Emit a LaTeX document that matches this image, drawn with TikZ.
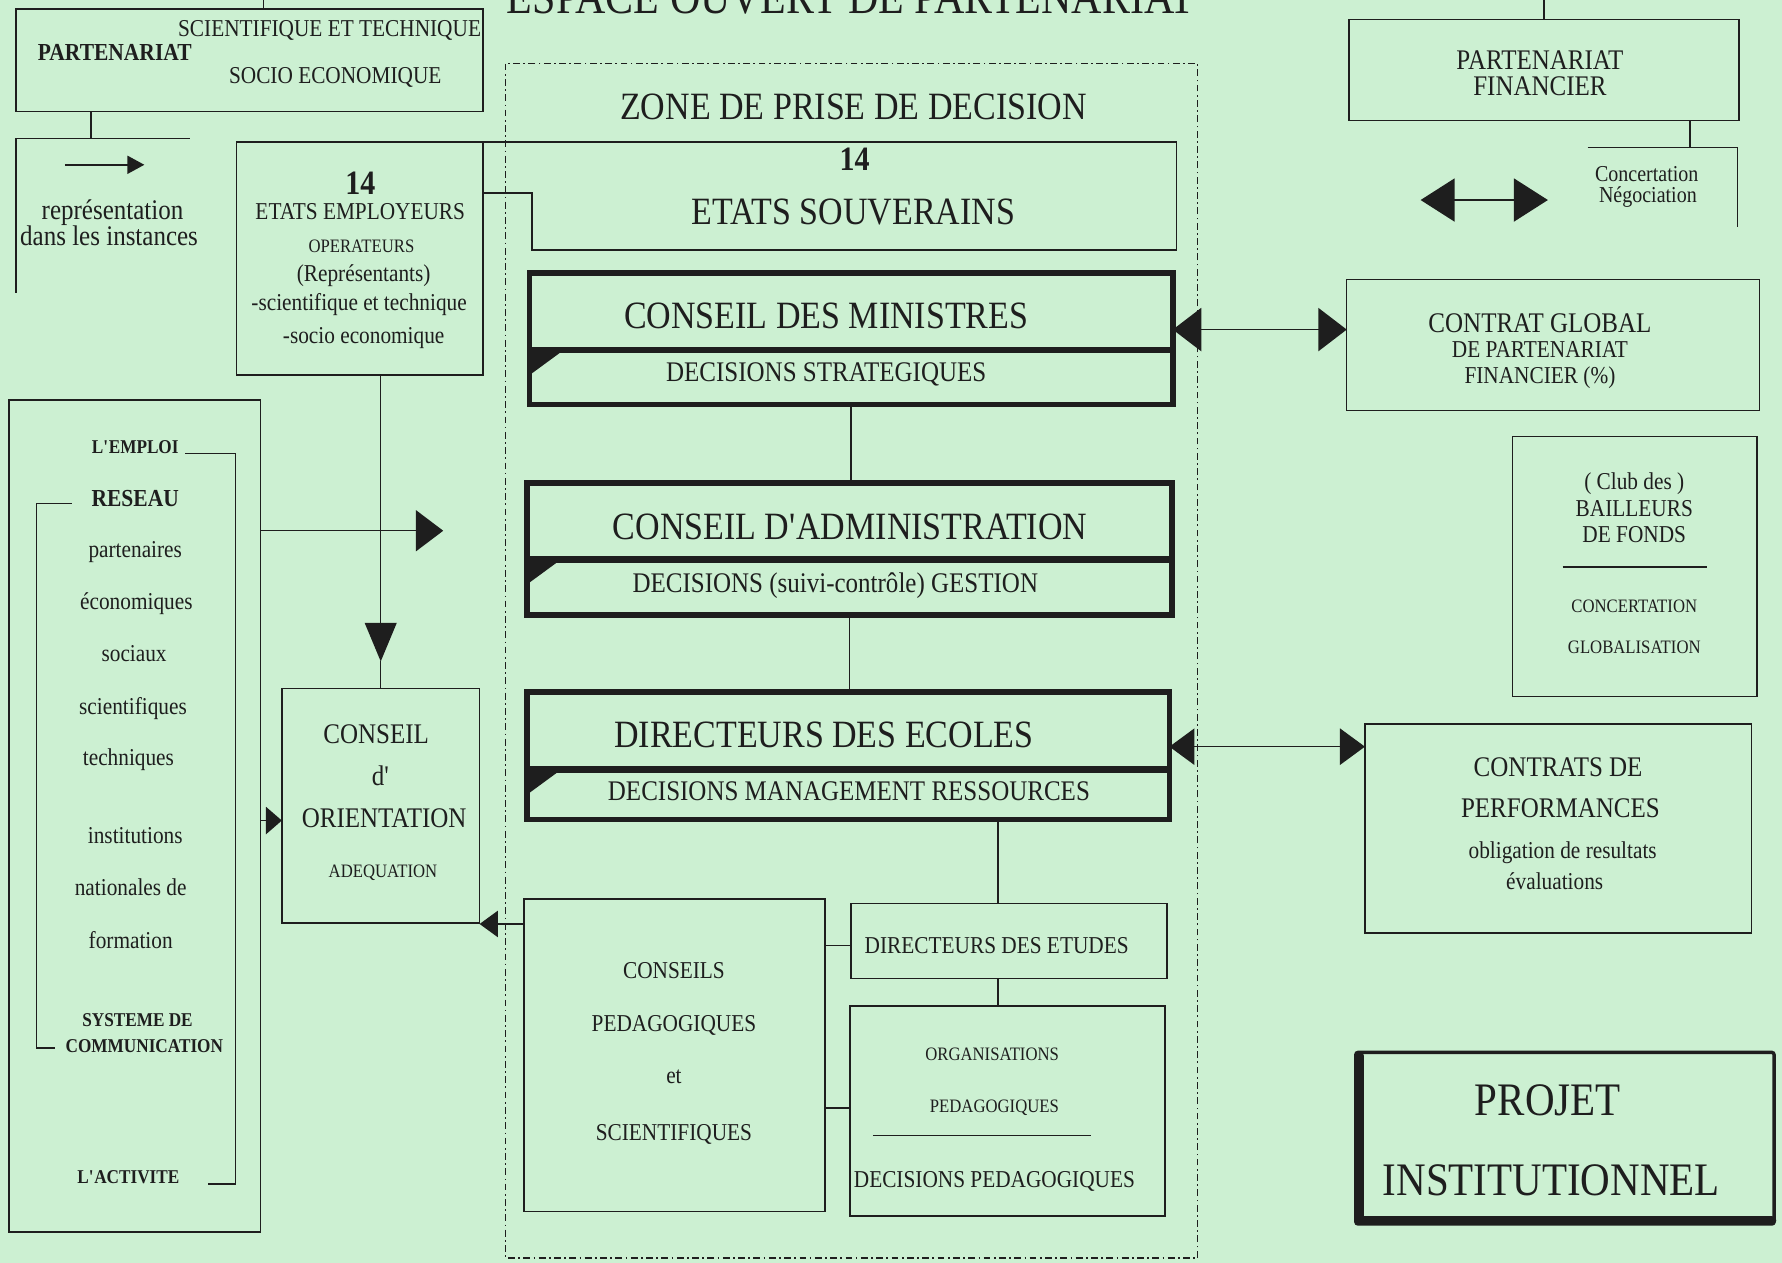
\documentclass[tikz,border=0pt]{standalone}
\usepackage{fontspec}
\setmainfont{Liberation Serif}[FakeStretch=0.88]
\usetikzlibrary{arrows.meta,fit}
\definecolor{bgc}{RGB}{204,240,210}
\definecolor{ink}{RGB}{30,30,30}
\newcommand{\sq}{\textquotesingle}
\begin{document}
\begin{tikzpicture}[x=1pt,y=-1pt,
 ln/.style={draw=ink,line width=1.3pt},
 box/.style={draw=ink,line width=1.3pt,inner sep=0pt,outer sep=0pt,fit={#1}},
 tbox/.style={draw=ink,line width=5pt,inner sep=0pt,outer sep=0pt,fit={#1}},
 divl/.style={draw=ink,line width=6pt},
 zone/.style={draw=ink,line width=1.1pt,dash pattern=on 6pt off 3pt on 1.5pt off 3pt},
 txt/.style={anchor=mid,inner sep=0pt,text=ink},
 fa/.style={font=\fontsize{16.7}{18}\selectfont},
 fb/.style={font=\fontsize{21.3}{23}\selectfont},
 fcn/.style={font=\fontsize{20}{22}\selectfont},
 fc/.style={font=\fontsize{25}{27}\selectfont},
 fd/.style={font=\fontsize{34}{36}\selectfont},
 fe/.style={font=\fontsize{41}{43}\selectfont},
 ba/.style={font=\bfseries\fontsize{17.2}{18}\selectfont},
 bb/.style={font=\bfseries\fontsize{21.5}{23}\selectfont},
 bn/.style={font=\bfseries\fontsize{30}{32}\selectfont},
 bigarr/.style={-{Triangle[length=24pt,width=36pt]}},
 downarr/.style={-{Triangle[length=34pt,width=28pt]}},
 midarr/.style={-{Triangle[length=16pt,width=23pt]}},
 smallarr/.style={-{Triangle[length=14pt,width=24pt]}},
 legarr/.style={-{Triangle[length=15pt,width=16pt]}},
 dblarr/.style={{Triangle[length=25pt,width=38pt]}-{Triangle[length=25pt,width=38pt]}},
 dblarrb/.style={{Triangle[length=22pt,width=32pt]}-{Triangle[length=22pt,width=32pt]}},
 dblarrc/.style={{Triangle[length=30pt,width=38pt]}-{Triangle[length=30pt,width=38pt]}},
]
% background and bounding box
\fill[bgc] (0,0) rectangle (1568,1111);
\useasboundingbox (0,0) rectangle (1568,1111);

% helper coordinates
\coordinate (top0) at (0,0);
\coordinate (y130) at (0,130);
\coordinate (y170) at (0,170);
\coordinate (y290) at (0,290);
\coordinate (y308) at (0,308);
\coordinate (y467) at (0,467);
\coordinate (y492) at (0,492);
\coordinate (y582) at (0,582);
\coordinate (y657) at (0,657);
\coordinate (y677) at (0,677);
\coordinate (y722) at (0,722);
\coordinate (y813) at (0,813);
\coordinate (y832) at (0,832);
\coordinate (y975) at (0,975);
\coordinate (x232) at (232,0);
\coordinate (x80) at (80,0);
\coordinate (x878) at (878,0);
\coordinate (x1487) at (1487,0);

% title
\node[txt,anchor=base,font=\fontsize{42}{44}\selectfont] (title) at (749,12) {ESPACE OUVERT DE PARTENARIAT};

% zone de prise de decision
\draw[zone] (445,56) rectangle (1054,1107);
\node[txt,fd] (zonet) at (751,103) {ZONE DE PRISE DE DECISION};

% top-left partenariat box
\node[box={(14,8)(425,98)}] (pt) {};
\draw[ln] (pt.north -| x232) -- (top0 -| x232);
\node[txt,fb] (sct) at (290,30) {SCIENTIFIQUE ET TECHNIQUE};
\node[txt,bb] (ptn) at (101,51) {PARTENARIAT};
\node[txt,fb] (soc) at (295,71) {SOCIO ECONOMIQUE};
\coordinate (lg1) at (14,122);
\coordinate (lg2) at (167,122);
\coordinate (lg3) at (14,258);
\draw[ln] (pt.south -| x80) -- (lg1 -| x80);
\draw[ln] (lg2) -- (lg1) -- (lg3);
\coordinate (la1) at (57,145);
\coordinate (la2) at (127,145);
\draw[ln,legarr] (la1) -- (la2);
\node[txt,fc] (rep1) at (99,191) {représentation};
\node[txt,fc] (rep2) at (96,214) {dans les instances};

% etats employeurs
\node[box={(208,125)(425,330)}] (ee) {};
\node[txt,bn] (n14a) at (317,169) {14};
\node[txt,fb] (ee1) at (317,191) {ETATS EMPLOYEURS};
\node[txt,fa] (ee2) at (318,220) {OPERATEURS};
\node[txt,fb] (ee3) at (320,245) {(Représentants)};
\node[txt,fb] (ee4) at (316,271) {-scientifique et technique};
\node[txt,fb] (ee5) at (320,300) {-socio economique};

% etats souverains (stepped shape)
\coordinate (es1) at (1035,125);
\coordinate (es2) at (1035,220);
\coordinate (es3) at (468,220);
\coordinate (es4) at (468,170);
\draw[ln,line join=miter] (ee.north east) -- (es1) -- (es2) -- (es3) -- (es4) -- (ee.east |- y170);
\node[txt,bn] (n14b) at (752,148) {14};
\node[txt,fd] (es) at (751,195) {ETATS SOUVERAINS};

% conseil des ministres
\node[tbox={(466,240)(1032,356)}] (cm) {};
\draw[divl] (cm.west |- y308) -- (cm.east |- y308);
\fill[ink] (cm.west |- y308) -- ++(30,0) -- ++(-30,22) -- cycle;
\node[txt,fd] (cmt) at (727,287) {CONSEIL DES MINISTRES};
\node[txt,fc] (cms) at (727,333) {DECISIONS STRATEGIQUES};

% conseil d'administration
\node[tbox={(464,425)(1031,541)}] (ca) {};
\draw[divl] (ca.west |- y492) -- (ca.east |- y492);
\fill[ink] (ca.west |- y492) -- ++(30,0) -- ++(-30,22) -- cycle;
\node[txt,fd] (cat) at (748,472) {CONSEIL D\sq ADMINISTRATION};
\node[txt,fc] (cas) at (735,519) {DECISIONS (suivi-contrôle) GESTION};

% directeurs des ecoles
\node[tbox={(464,609)(1029,721)}] (de) {};
\draw[divl] (de.west |- y677) -- (de.east |- y677);
\fill[ink] (de.west |- y677) -- ++(30,0) -- ++(-30,22) -- cycle;
\node[txt,fd] (det1) at (725,655) {DIRECTEURS DES ECOLES};
\node[txt,fc] (des) at (747,702) {DECISIONS MANAGEMENT RESSOURCES};

\draw[ln] (cm.south) -- (cm.south |- ca.north);
\draw[ln] (ca.south) -- (ca.south |- de.north);

% conseils pedagogiques
\node[box={(461,791)(726,1066)}] (cp) {};
\node[txt,fb] (cp1) at (593,859) {CONSEILS};
\node[txt,fb] (cp2) at (593,905) {PEDAGOGIQUES};
\node[txt,fb] (cp3) at (593,951) {et};
\node[txt,fb] (cp4) at (593,1001) {SCIENTIFIQUES};

% directeurs des etudes
\node[box={(749,795)(1027,861)}] (det) {};
\node[txt,fb] (dett) at (877,837) {DIRECTEURS DES ETUDES};

% organisations
\node[box={(748,885)(1025,1070)}] (org) {};
\node[txt,fa] (org1) at (873,931) {ORGANISATIONS};
\node[txt,fa] (org2) at (875,977) {PEDAGOGIQUES};
\coordinate (ol1) at (768,999);
\coordinate (ol2) at (960,999);
\draw[ln] (ol1) -- (ol2);
\node[txt,fb] (org3) at (875,1043) {DECISIONS PEDAGOGIQUES};

\draw[ln] (de.south -| x878) -- (det.north -| x878);
\draw[ln] (det.south -| x878) -- (org.north -| x878);
\draw[ln] (cp.east |- y832) -- (det.west |- y832);
\draw[ln] (cp.east |- y975) -- (org.west |- y975);

% conseil d'orientation
\node[box={(248,606)(422,812)}] (co) {};
\node[txt,fc] (co1) at (331,652) {CONSEIL};
\node[txt,fc] (co2) at (335,689) {d\sq};
\node[txt,fc] (co3) at (338,726) {ORIENTATION};
\node[txt,fa] (co4) at (337,770) {ADEQUATION};

\draw[ln,downarr] (co.north |- ee.south) -- (co.north |- y582);
\draw[ln] (co.north |- y582) -- (co.north);
\draw[ln,midarr] (cp.west |- y813) -- (co.east |- y813);

% left reseau box
\node[box={(8,352)(229,1084)}] (lb) {};
\coordinate (br1) at (163,399);
\coordinate (br2) at (207,399);
\coordinate (br3) at (207,1042);
\coordinate (br4) at (183,1042);
\draw[ln] (br1) -- (br2) -- (br3) -- (br4);
\coordinate (bq1) at (63,443);
\coordinate (bq2) at (32,443);
\coordinate (bq3) at (32,922);
\coordinate (bq4) at (48,922);
\draw[ln] (bq1) -- (bq2) -- (bq3) -- (bq4);
\node[txt,ba] (l1) at (119,397) {L\sq EMPLOI};
\node[txt,bb] (l2) at (119,443) {RESEAU};
\node[txt,fb] (l3) at (119,488) {partenaires};
\node[txt,fb] (l4) at (120,534) {économiques};
\node[txt,fb] (l5) at (118,580) {sociaux};
\node[txt,fb] (l6) at (117,626) {scientifiques};
\node[txt,fb] (l7) at (113,671) {techniques};
\node[txt,fb] (l8) at (119,740) {institutions};
\node[txt,fb] (l9) at (115,786) {nationales de};
\node[txt,fb] (l10) at (115,832) {formation};
\node[txt,ba] (l11) at (121,901) {SYSTEME DE};
\node[txt,ba] (l12) at (127,924) {COMMUNICATION};
\node[txt,ba] (l13) at (113,1039) {L\sq ACTIVITE};

\coordinate (az) at (390,467);
\draw[ln,bigarr] (lb.east |- y467) -- (az);
\draw[ln,smallarr] (lb.east |- y722) -- (co.west |- y722);

% partenariat financier
\node[box={(1187,17)(1530,106)}] (pf) {};
\draw[ln] (pf.north) -- (pf.north |- top0);
\node[txt,fc] (pf1) at (1355,59) {PARTENARIAT};
\node[txt,fc] (pf2) at (1355,82) {FINANCIER};
\coordinate (rb1) at (1397,130);
\coordinate (rb2) at (1529,130);
\coordinate (rb3) at (1529,200);
\draw[ln] (pf.south -| x1487) -- (y130 -| x1487);
\draw[ln] (rb1) -- (rb2) -- (rb3);
\node[txt,fcn] (cn1) at (1449,157) {Concertation};
\node[txt,fcn] (cn2) at (1450,176) {Négociation};
\coordinate (ca1) at (1250,176);
\coordinate (ca2) at (1362,176);
\draw[ln,dblarrc] (ca1) -- (ca2);

% contrat global
\node[box={(1185,246)(1548,361)}] (cg) {};
\node[txt,fc] (cg1) at (1355,290) {CONTRAT GLOBAL};
\node[txt,fb] (cg2) at (1355,312) {DE PARTENARIAT};
\node[txt,fb] (cg3) at (1355,335) {FINANCIER (\%)};
\draw[ln,dblarr] (cm.east |- y290) -- (cg.west |- y290);

% bailleurs de fonds
\node[box={(1331,384)(1546,613)}] (bf) {};
\node[txt,fb] (bf1) at (1438,428) {( Club des )};
\node[txt,fb] (bf2) at (1438,452) {BAILLEURS};
\node[txt,fb] (bf3) at (1438,475) {DE FONDS};
\coordinate (bl1) at (1375,499);
\coordinate (bl2) at (1502,499);
\draw[ln] (bl1) -- (bl2);
\node[txt,fa] (bf4) at (1438,537) {CONCERTATION};
\node[txt,fa] (bf5) at (1438,573) {GLOBALISATION};

% contrats de performances
\node[box={(1201,637)(1541,821)}] (cdp) {};
\node[txt,fc] (cdp1) at (1371,681) {CONTRATS DE};
\node[txt,fc] (cdp2) at (1373,717) {PERFORMANCES};
\node[txt,fb] (cdp3) at (1375,753) {obligation de resultats};
\node[txt,fb] (cdp4) at (1368,780) {évaluations};
\draw[ln,dblarrb] (de.east |- y657) -- (cdp.west |- y657);

% projet institutionnel
\node[draw=ink,line width=3pt,inner sep=0pt,outer sep=0pt,rounded corners=2pt,fit={(1193,926)(1561,1077)}] (pi) {};
\draw[ink,line width=8pt,line join=round,line cap=round]
  ([xshift=3pt,yshift=-3pt]pi.north west) -- ([xshift=3pt,yshift=3pt]pi.south west) -- ([xshift=-2pt,yshift=3pt]pi.south east);
\node[txt,fe] (pi1) at (1362,979) {PROJET};
\node[txt,fe] (pi2) at (1365,1050) {INSTITUTIONNEL};
\end{tikzpicture}
\end{document}
